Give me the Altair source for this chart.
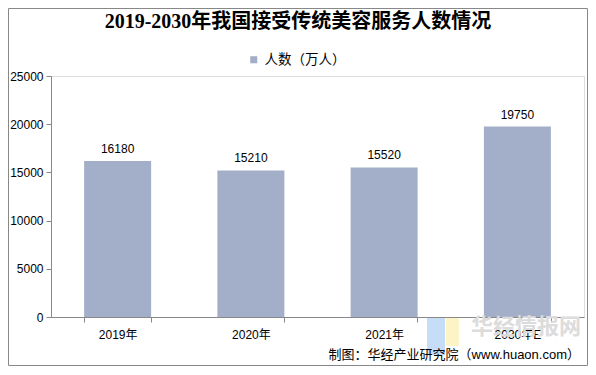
import altair as alt
import pandas as pd

categories = ["2019年", "2020年", "2021年", "2030年E"]
values = [16180, 15210, 15520, 19750]
series_name = "人数（万人）"
y_ticks = [0, 5000, 10000, 15000, 20000, 25000]
title_text = "2019-2030年我国接受传统美容服务人数情况"
source_text = "制图：华经产业研究院（www.huaon.com）"
watermark_text = "华经情报网"

df = pd.DataFrame({"year": categories, "value": values, "series": [series_name] * 4})

W, H = 533, 241
FONT = "Liberation Sans, Noto Sans CJK SC"

base = alt.Chart(df)

bars = base.mark_bar(size=67).encode(
    x=alt.X("year:N", sort=categories, title=None,
            scale=alt.Scale(paddingInner=0.5, paddingOuter=0.25),
            axis=alt.Axis(labelAngle=0, tickBand="extent", tickSize=5, labelPadding=7,
                          labelFontSize=12, labelFont=FONT, labelColor="#000",
                          domainColor="#888", tickColor="#888")),
    y=alt.Y("value:Q", title=None,
            scale=alt.Scale(domain=[0, 25000], nice=False),
            axis=alt.Axis(values=y_ticks, format="d", grid=False, tickSize=5, labelPadding=3,
                          labelFontSize=12, labelFont=FONT, labelColor="#000",
                          domainColor="#888", tickColor="#888")),
    color=alt.Color("series:N", scale=alt.Scale(range=["#A3AEC8"]),
                    legend=alt.Legend(title=None, orient="none", legendX=196, legendY=-23,
                                      symbolType="square", symbolSize=50,
                                      labelFontSize=13.5, labelFont=FONT, labelColor="#000",
                                      symbolStrokeWidth=0)),
)

labels = base.mark_text(dy=-12, fontSize=12, font=FONT, color="#000").encode(
    x=alt.X("year:N", sort=categories),
    y=alt.Y("value:Q"),
    text=alt.Text("value:Q", format="d"),
)

title = alt.Chart(pd.DataFrame({"t": [title_text]})).mark_text(
    align="center", baseline="middle", fontSize=20, fontWeight="bold",
    font="Liberation Serif, Noto Sans CJK SC", color="#000"
).encode(x=alt.value(247), y=alt.value(-54), text="t:N")

source = alt.Chart(pd.DataFrame({"t": [source_text]})).mark_text(
    align="right", baseline="middle", fontSize=13, font=FONT, color="#000"
).encode(x=alt.value(529), y=alt.value(279), text="t:N")

logo_blue = alt.Chart(pd.DataFrame({"a": [1]})).mark_rect(fill="#B8D4F5", opacity=0.8).encode(
    x=alt.value(376), x2=alt.value(394), y=alt.value(242), y2=alt.value(279))
logo_yellow = alt.Chart(pd.DataFrame({"a": [1]})).mark_rect(fill="#FBF0B8", opacity=0.8).encode(
    x=alt.value(395), x2=alt.value(408), y=alt.value(242), y2=alt.value(270))

watermark = alt.Chart(pd.DataFrame({"t": [watermark_text]})).mark_text(
    align="left", baseline="middle", fontSize=22, fontWeight="bold", font=FONT, color="#dcdcdc"
).encode(x=alt.value(420), y=alt.value(251), text="t:N")

frame = alt.Chart(pd.DataFrame({"a": [1]})).mark_rect(
    fill=None, stroke="#888", strokeWidth=1
).encode(x=alt.value(-42.5), x2=alt.value(536.5), y=alt.value(-67.5), y2=alt.value(289.5))

chart = alt.layer(frame, logo_blue, logo_yellow, bars, labels, watermark, title, source).properties(
    width=W, height=H,
    padding={"left": 43, "top": 68, "right": 4, "bottom": 50},
    autosize=alt.AutoSizeParams(type="none"),
).configure_view(stroke=None).configure(background="white")

chart.save("out.html", embed_options={"renderer": "svg", "actions": False})
